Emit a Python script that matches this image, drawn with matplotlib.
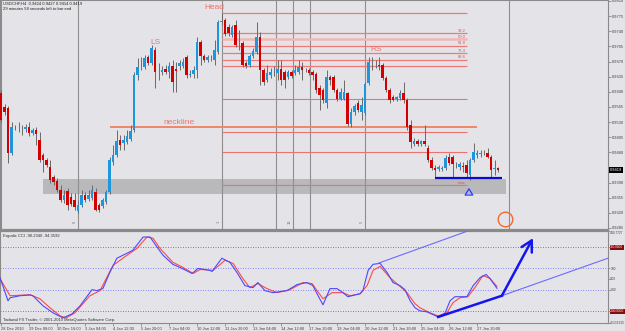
import matplotlib
matplotlib.use("Agg")
import matplotlib.pyplot as plt
import numpy as np

plt.rcParams['font.family'] = ['Liberation Sans', 'DejaVu Sans']

# ---------------- data (USDCHF H4) ----------------
opens = [0.9597, 0.9565, 0.9563, 0.9459, 0.9519, 0.9519, 0.9516, 0.9514, 0.9519, 0.9505,
         0.9512, 0.9488, 0.9454, 0.9442, 0.9426, 0.9403, 0.9394, 0.9373, 0.9350, 0.9371,
         0.9357, 0.9350, 0.9324, 0.9338, 0.9361, 0.9352, 0.9354, 0.9368, 0.9338, 0.9336,
         0.9345, 0.9368, 0.9438, 0.9454, 0.9488, 0.9482, 0.9484, 0.9491, 0.9512, 0.9639,
         0.9657, 0.9657, 0.9680, 0.9667, 0.9697, 0.9648, 0.9646, 0.9653, 0.9646, 0.9660,
         0.9653, 0.9660, 0.9660, 0.9680, 0.9639, 0.9641, 0.9650, 0.9715, 0.9683, 0.9674,
         0.9678, 0.9674, 0.9692, 0.9761, 0.9766, 0.9750, 0.9731, 0.9754, 0.9713, 0.9713,
         0.9667, 0.9662, 0.9683, 0.9692, 0.9727, 0.9650, 0.9627, 0.9639, 0.9646, 0.9643,
         0.9653, 0.9646, 0.9634, 0.9646, 0.9643, 0.9646, 0.9657, 0.9650, 0.9650, 0.9646,
         0.9641, 0.9609, 0.9604, 0.9574, 0.9634, 0.9634, 0.9604, 0.9583, 0.9583, 0.9597,
         0.9525, 0.9553, 0.9574, 0.9553, 0.9551, 0.9620, 0.9669, 0.9664, 0.9662, 0.9662,
         0.9632, 0.9604, 0.9588, 0.9583, 0.9586, 0.9597, 0.9581, 0.9523, 0.9479, 0.9486,
         0.9479, 0.9486, 0.9470, 0.9442, 0.9424, 0.9421, 0.9421, 0.9424, 0.9449, 0.9449,
         0.9431, 0.9426, 0.9428, 0.9431, 0.9408, 0.9442, 0.9454, 0.9456, 0.9459, 0.9459,
         0.9449, 0.9421, 0.9424]
highs = [0.9604, 0.9572, 0.9567, 0.9530, 0.9523, 0.9530, 0.9523, 0.9525, 0.9530, 0.9516,
         0.9519, 0.9507, 0.9459, 0.9447, 0.9442, 0.9408, 0.9401, 0.9384, 0.9373, 0.9378,
         0.9366, 0.9366, 0.9350, 0.9373, 0.9368, 0.9373, 0.9384, 0.9378, 0.9343, 0.9354,
         0.9373, 0.9449, 0.9477, 0.9512, 0.9500, 0.9500, 0.9512, 0.9523, 0.9646, 0.9678,
         0.9680, 0.9685, 0.9685, 0.9708, 0.9704, 0.9667, 0.9660, 0.9662, 0.9669, 0.9674,
         0.9669, 0.9674, 0.9678, 0.9685, 0.9650, 0.9660, 0.9727, 0.9720, 0.9687, 0.9685,
         0.9685, 0.9720, 0.9766, 0.9782, 0.9771, 0.9757, 0.9754, 0.9766, 0.9743, 0.9717,
         0.9671, 0.9687, 0.9701, 0.9761, 0.9738, 0.9655, 0.9662, 0.9655, 0.9660, 0.9674,
         0.9674, 0.9650, 0.9650, 0.9650, 0.9662, 0.9674, 0.9669, 0.9655, 0.9655, 0.9650,
         0.9646, 0.9616, 0.9609, 0.9650, 0.9639, 0.9639, 0.9609, 0.9609, 0.9627, 0.9600,
         0.9563, 0.9572, 0.9581, 0.9588, 0.9623, 0.9680, 0.9680, 0.9674, 0.9680, 0.9667,
         0.9636, 0.9609, 0.9593, 0.9590, 0.9604, 0.9623, 0.9586, 0.9535, 0.9493, 0.9491,
         0.9488, 0.9523, 0.9477, 0.9449, 0.9431, 0.9431, 0.9428, 0.9454, 0.9459, 0.9454,
         0.9438, 0.9438, 0.9438, 0.9442, 0.9447, 0.9482, 0.9465, 0.9465, 0.9465, 0.9470,
         0.9454, 0.9442, 0.9427]
lows = [0.9530, 0.9546, 0.9435, 0.9454, 0.9512, 0.9507, 0.9500, 0.9507, 0.9498, 0.9500,
        0.9477, 0.9438, 0.9415, 0.9426, 0.9389, 0.9384, 0.9368, 0.9345, 0.9343, 0.9327,
        0.9336, 0.9327, 0.9320, 0.9334, 0.9345, 0.9347, 0.9350, 0.9324, 0.9322, 0.9331,
        0.9340, 0.9364, 0.9431, 0.9449, 0.9465, 0.9465, 0.9479, 0.9486, 0.9507, 0.9627,
        0.9650, 0.9653, 0.9662, 0.9662, 0.9609, 0.9627, 0.9639, 0.9641, 0.9632, 0.9600,
        0.9600, 0.9650, 0.9655, 0.9632, 0.9634, 0.9632, 0.9632, 0.9662, 0.9669, 0.9669,
        0.9671, 0.9662, 0.9687, 0.9754, 0.9729, 0.9729, 0.9727, 0.9704, 0.9697, 0.9657,
        0.9655, 0.9657, 0.9678, 0.9687, 0.9616, 0.9616, 0.9623, 0.9632, 0.9636, 0.9627,
        0.9616, 0.9609, 0.9630, 0.9632, 0.9639, 0.9641, 0.9627, 0.9646, 0.9639, 0.9627,
        0.9597, 0.9558, 0.9574, 0.9563, 0.9616, 0.9600, 0.9579, 0.9581, 0.9581, 0.9521,
        0.9519, 0.9546, 0.9553, 0.9535, 0.9546, 0.9616, 0.9650, 0.9655, 0.9650, 0.9627,
        0.9600, 0.9574, 0.9579, 0.9579, 0.9581, 0.9574, 0.9512, 0.9470, 0.9475, 0.9475,
        0.9475, 0.9475, 0.9438, 0.9419, 0.9401, 0.9417, 0.9417, 0.9419, 0.9431, 0.9401,
        0.9424, 0.9419, 0.9415, 0.9401, 0.9396, 0.9438, 0.9447, 0.9449, 0.9454, 0.9447,
        0.9403, 0.9407, 0.9414]
closes = [0.9535, 0.9553, 0.9459, 0.9519, 0.9518, 0.9518, 0.9517, 0.9519, 0.9505, 0.9512,
          0.9502, 0.9442, 0.9442, 0.9431, 0.9396, 0.9391, 0.9373, 0.9350, 0.9361, 0.9338,
          0.9340, 0.9334, 0.9338, 0.9361, 0.9350, 0.9361, 0.9373, 0.9327, 0.9327, 0.9350,
          0.9368, 0.9442, 0.9454, 0.9486, 0.9477, 0.9488, 0.9498, 0.9509, 0.9639, 0.9657,
          0.9658, 0.9678, 0.9667, 0.9701, 0.9646, 0.9647, 0.9650, 0.9646, 0.9660, 0.9623,
          0.9648, 0.9667, 0.9669, 0.9639, 0.9641, 0.9650, 0.9715, 0.9683, 0.9674, 0.9680,
          0.9677, 0.9697, 0.9761, 0.9764, 0.9734, 0.9736, 0.9750, 0.9708, 0.9712, 0.9662,
          0.9660, 0.9683, 0.9694, 0.9727, 0.9650, 0.9623, 0.9643, 0.9646, 0.9645, 0.9653,
          0.9627, 0.9627, 0.9646, 0.9636, 0.9650, 0.9657, 0.9650, 0.9651, 0.9643, 0.9639,
          0.9604, 0.9593, 0.9581, 0.9634, 0.9627, 0.9604, 0.9583, 0.9600, 0.9600, 0.9525,
          0.9553, 0.9567, 0.9558, 0.9569, 0.9618, 0.9669, 0.9668, 0.9665, 0.9660, 0.9632,
          0.9604, 0.9581, 0.9581, 0.9588, 0.9597, 0.9581, 0.9519, 0.9484, 0.9486, 0.9479,
          0.9486, 0.9479, 0.9442, 0.9424, 0.9419, 0.9426, 0.9424, 0.9447, 0.9435, 0.9433,
          0.9430, 0.9433, 0.9427, 0.9412, 0.9442, 0.9461, 0.9459, 0.9459, 0.9458, 0.9449,
          0.9419, 0.9423, 0.9419]

price_ticks = [0.9810, 0.9775, 0.9740, 0.9705, 0.9670, 0.9635, 0.9600, 0.9565, 0.9530,
               0.9495, 0.9460, 0.9425, 0.9390, 0.9355, 0.9320, 0.9285]

time_labels = ["28 Dec 2010", "29 Dec 08:00", "30 Dec 16:00", "3 Jan 04:00", "4 Jan 12:00",
               "5 Jan 20:00", "7 Jan 04:00", "10 Jan 12:00", "11 Jan 20:00", "13 Jan 04:00",
               "14 Jan 12:00", "17 Jan 20:00", "19 Jan 04:00", "20 Jan 12:00", "21 Jan 20:00",
               "25 Jan 04:00", "26 Jan 12:00", "27 Jan 20:00"]
time_label_bars = [0, 8, 16, 24, 32, 40, 48, 56, 64, 72, 80, 88, 96, 104, 112, 120, 128, 136]

# Fibonacci retracement (Head high -> low)
fib_high, fib_low = 0.9782, 0.9660
fib_levels = [0.0, 38.2, 50.0, 61.8, 76.4, 88.6, 100.0]
fib_start, fib_end = 63, 133
extra_levels = [0.9583, 0.9507, 0.9461, 0.9384]
neckline = 0.9519
neck_start, neck_end = 31.1, 136
support = 0.9401
support_start, support_end = 124, 143.1
zone_low, zone_high = 0.9364, 0.9398
zone_start, zone_end = 12.1, 144.3
vline_bars = [0, 22, 63, 78.6, 83.4, 88.3, 104, 145]

# Ergodic CCI readings (bar position, value)
ergo_blue_x = [-0.3, 2.0, 2.6, 5.4, 8.3, 9.1, 12.0, 14.9, 17.7, 20.3, 22.6, 26.0, 27.4, 29.1,
               31.1, 33.1, 36.0, 37.7, 40.6, 42.6, 44.6, 46.3, 49.1, 51.7, 54.6, 56.3, 59.7,
               60.3, 63.1, 65.4, 67.4, 69.7, 72.0, 73.4, 75.4, 77.7, 81.7, 84.6, 87.4, 89.1,
               90.6, 92.0, 94.0, 96.0, 97.7, 99.1, 102.6, 103.4, 104.9, 106.3, 108.3, 110.3,
               112.0, 114.0, 115.4, 116.9, 118.3, 119.7, 121.7, 124.9, 126.9, 128.3, 129.7,
               131.7, 133.1, 134.9, 136.9, 138.6, 139.7, 141.7]
ergo_blue = [13, -205, -177, -158, -151, -158, -252, -319, -366, -328, -252, -101, -110, -91,
             61, 194, 241, 270, 393, 393, 298, 222, 137, 99, 51, 99, 80,
             70, 194, 156, 61, -63, -82, -34, -110, -129, -110, -53, -34, -63,
             -158, -243, -91, -91, -129, -167, -139, -110, 80, 137, 146, 61,
             -34, -63, -101, -205, -271, -300, -309, -357, -319, -205, -167,
             -167, -167, -63, 13, 42, 4, -88]
ergo_red_x = [-0.3, 2.6, 8.3, 11.1, 14.0, 16.9, 18.6, 21.1, 25.4, 28.3, 32.0, 36.0, 38.9,
              41.7, 43.4, 45.4, 49.1, 52.0, 54.9, 56.9, 60.6, 64.0, 66.3, 69.1, 71.1, 73.4,
              76.0, 78.9, 82.6, 86.3, 88.9, 90.3, 92.0, 94.6, 97.7, 99.7, 102.6, 104.6,
              106.3, 108.3, 111.1, 113.4, 116.0, 118.3, 119.7, 122.6, 124.9, 127.4, 129.1,
              131.1, 133.4, 135.4, 137.7, 139.7, 141.7]
ergo_red = [4, -158, -148, -186, -271, -347, -366, -319, -158, -110, 127, 222, 288,
            393, 383, 288, 156, 108, 51, 89, 80, 175, 146, 4, -82, -44,
            -91, -129, -101, -34, -44, -110, -186, -129, -129, -158, -139, -63,
            80, 118, 13, -53, -129, -233, -271, -319, -347, -319, -224,
            -177, -167, -82, 32, 4, -70]
ind_ticks = [449.7727, 300, 100, 0, -100, -300, -413.8133]
ind_labels = ['449.7727', '300.0000', '100', '0.00', '-100', '-300.0000', '-413.8133']

# ---------------- style ----------------
W, H = 625, 331
BG = '#e4e4e8'
BULL = '#1e96dc'
BEAR = '#d40000'
WICK = '#6a6a6a'
SALMON = '#f07070'
FRAME = '#8a8a8a'
LBL = 2.9

fig = plt.figure(figsize=(W / 100, H / 100), dpi=100, facecolor=BG)
X0, X1 = -1 / 3.5, 607 / 3.5

ax = fig.add_axes([0, 1 - 230 / H, 608 / W, 230 / H], facecolor=BG)
axi = fig.add_axes([0, 1 - 323 / H, 608 / W, 92 / H], facecolor=BG)
for a in (ax, axi):
    a.set_xlim(X0, X1)
    for s in a.spines.values():
        s.set_color(FRAME)
        s.set_linewidth(0.8)
ax.spines['bottom'].set_linewidth(1.6)
axi.spines['top'].set_linewidth(1.6)
ax.set_ylim(0.92803, 0.98123)
axi.set_ylim(-413.8133, 449.7727)

# ---------------- main panel ----------------
o = np.array(opens); c = np.array(closes); h = np.array(highs); l = np.array(lows)
idx = np.arange(len(o))
up = c >= o
ax.fill_between([zone_start, zone_end], zone_low, zone_high, color='#b9b9bb', zorder=1, lw=0)
ax.vlines(vline_bars, 0.92803, 0.98123, color='#8e8e8e', lw=0.8, zorder=2)

for lvl in fib_levels:
    p = fib_high - (fib_high - fib_low) * lvl / 100
    if lvl == 50.0:
        ax.hlines(p, fib_start, fib_end, color='#f4b4b4', lw=1.8, zorder=2)
    else:
        ax.hlines(p, fib_start, fib_end, color='#f07878', lw=0.9, zorder=2)
    if 0 < lvl < 100:
        ax.text(fib_end - 0.3, p + 0.0001, f'{lvl:.1f}', ha='right', va='bottom',
                fontsize=3.0, color='#e05050', zorder=5)
for p in extra_levels:
    ax.hlines(p, fib_start, fib_end, color='#ee7070', lw=0.8, zorder=2)
ax.text(fib_end - 0.3, extra_levels[-1] + 0.0001, 'max', ha='right', va='bottom',
        fontsize=3.0, color='#e05050', zorder=5)
ax.hlines(neckline, neck_start, neck_end, color='#f08060', lw=1.3, zorder=2)

ax.vlines(idx, l, h, color=WICK, lw=0.7, zorder=3)
bottoms = np.minimum(o, c)
heights = np.maximum(np.abs(c - o), 0.00012)
ax.bar(idx, heights, bottom=bottoms, width=0.64, color=np.where(up, BULL, BEAR),
       zorder=4, linewidth=0)

ax.hlines(support, support_start, support_end, color='#0a0ad0', lw=1.6, zorder=5)
ax.annotate('', xy=(133.7, 0.9382), xytext=(133.7, 0.9357),
            arrowprops=dict(arrowstyle='simple,head_length=0.9,head_width=1.1,tail_width=0.45',
                            fc='none', ec='#2a3cff', lw=0.9, mutation_scale=5), zorder=6)
ax.plot(144, 0.93058, marker='o', ms=10.5, mfc='none', mec='#f06a30', mew=1.0, zorder=6)

ax.text(61, 0.9794, 'Head', fontsize=6, color=SALMON, ha='center', va='center')
ax.text(44, 0.9715, 'LS', fontsize=6, color=SALMON, ha='center', va='center')
ax.text(107.1, 0.9698, 'RS', fontsize=6, color=SALMON, ha='center', va='center')
ax.text(50.9, 0.9530, 'neckline', fontsize=6, color=SALMON, ha='center', va='center')
for xb, s in ((21.2, '0'), (62.2, '1'), (82.6, '13'), (103.2, '5')):
    ax.text(xb, 0.9300, s, fontsize=2.8, color='#707070', rotation=90, ha='center', va='center')

ax.yaxis.tick_right()
ax.set_yticks(price_ticks)
# the current-price box covers the 0.9425 label, as in the terminal
ax.set_yticklabels(['' if abs(p - closes[-1]) < 0.001 else f'{p:.4f}' for p in price_ticks])
ax.tick_params(axis='y', labelsize=LBL, colors=FRAME, labelcolor='#404040', length=2,
               width=0.6, pad=1.0)
ax.set_xticks([])
ax.text(1.003, closes[-1], f'{closes[-1]:.4f}', transform=ax.get_yaxis_transform(),
        fontsize=LBL, color='white', ha='left', va='center', zorder=10,
        bbox=dict(facecolor='black', edgecolor='none', pad=0.6))

fig.text(3 / W, 1 - 4 / H, 'USDCHF,H4  0.9424 0.9427 0.9414 0.9419', fontsize=3.0,
         color='#202020', va='center')
fig.text(3 / W, 1 - 9.5 / H, '29 minutes 58 seconds left to bar end', fontsize=3.0,
         color='#202020', va='center')

# ---------------- indicator panel ----------------
for lvl, col in ((300, '#b0603a'), (-300, '#b0603a'), (100, '#7a7aff'), (-100, '#7a7aff')):
    axi.axhline(lvl, color=col, lw=0.6, ls=(0, (1.2, 1.8)), zorder=1)
axi.plot(ergo_red_x, ergo_red, color='#ff4848', lw=0.8, zorder=3)
axi.plot(ergo_blue_x, ergo_blue, color='#4a4aff', lw=0.8, zorder=3)

axi.plot([107.7, 136.0], [146, 481], color='#6b6bff', lw=0.8, zorder=4)
axi.plot([143.1, 173.4], [-158, 194], color='#6b6bff', lw=0.8, zorder=4)
axi.plot([124.9, 143.1], [-357, -158], color='#1515ee', lw=1.8, zorder=5)
axi.annotate('', xy=(152, 383), xytext=(143.1, -158),
             arrowprops=dict(arrowstyle='->,head_length=0.55,head_width=0.3', lw=1.8,
                             color='#1515ee', mutation_scale=14, shrinkA=0, shrinkB=0),
             zorder=5)

axi.yaxis.tick_right()
axi.set_yticks(ind_ticks)
axi.set_yticklabels(ind_labels)
axi.tick_params(axis='y', labelsize=2.3, colors=FRAME, labelcolor='#404040', length=1.2,
                width=0.6, pad=0.4)
for k in (1, 5):
    t = axi.get_yticklabels()[k]
    t.set_color('white')
    t.set_bbox(dict(facecolor='#8b0a0a', edgecolor='none', pad=0.2))
axi.get_yticklabels()[0].set_va('top')

axi.set_xticks(time_label_bars)
axi.set_xticklabels(time_labels, ha='left')
axi.tick_params(axis='x', labelsize=LBL, colors=FRAME, labelcolor='#404040', length=2,
                width=0.6, pad=0.8)

fig.text(3 / W, 1 - 236 / H, 'Ergodic CCI -90.2340 -94.3592', fontsize=3.0, color='#303030',
         va='center')
fig.text(3 / W, 1 - 319.5 / H, 'Tadawul FX Trader, \u00a9 2001-2010 MetaQuotes Software Corp.',
         fontsize=3.0, color='#303030', va='center')

fig.savefig('out.png', dpi=100, facecolor=BG)
